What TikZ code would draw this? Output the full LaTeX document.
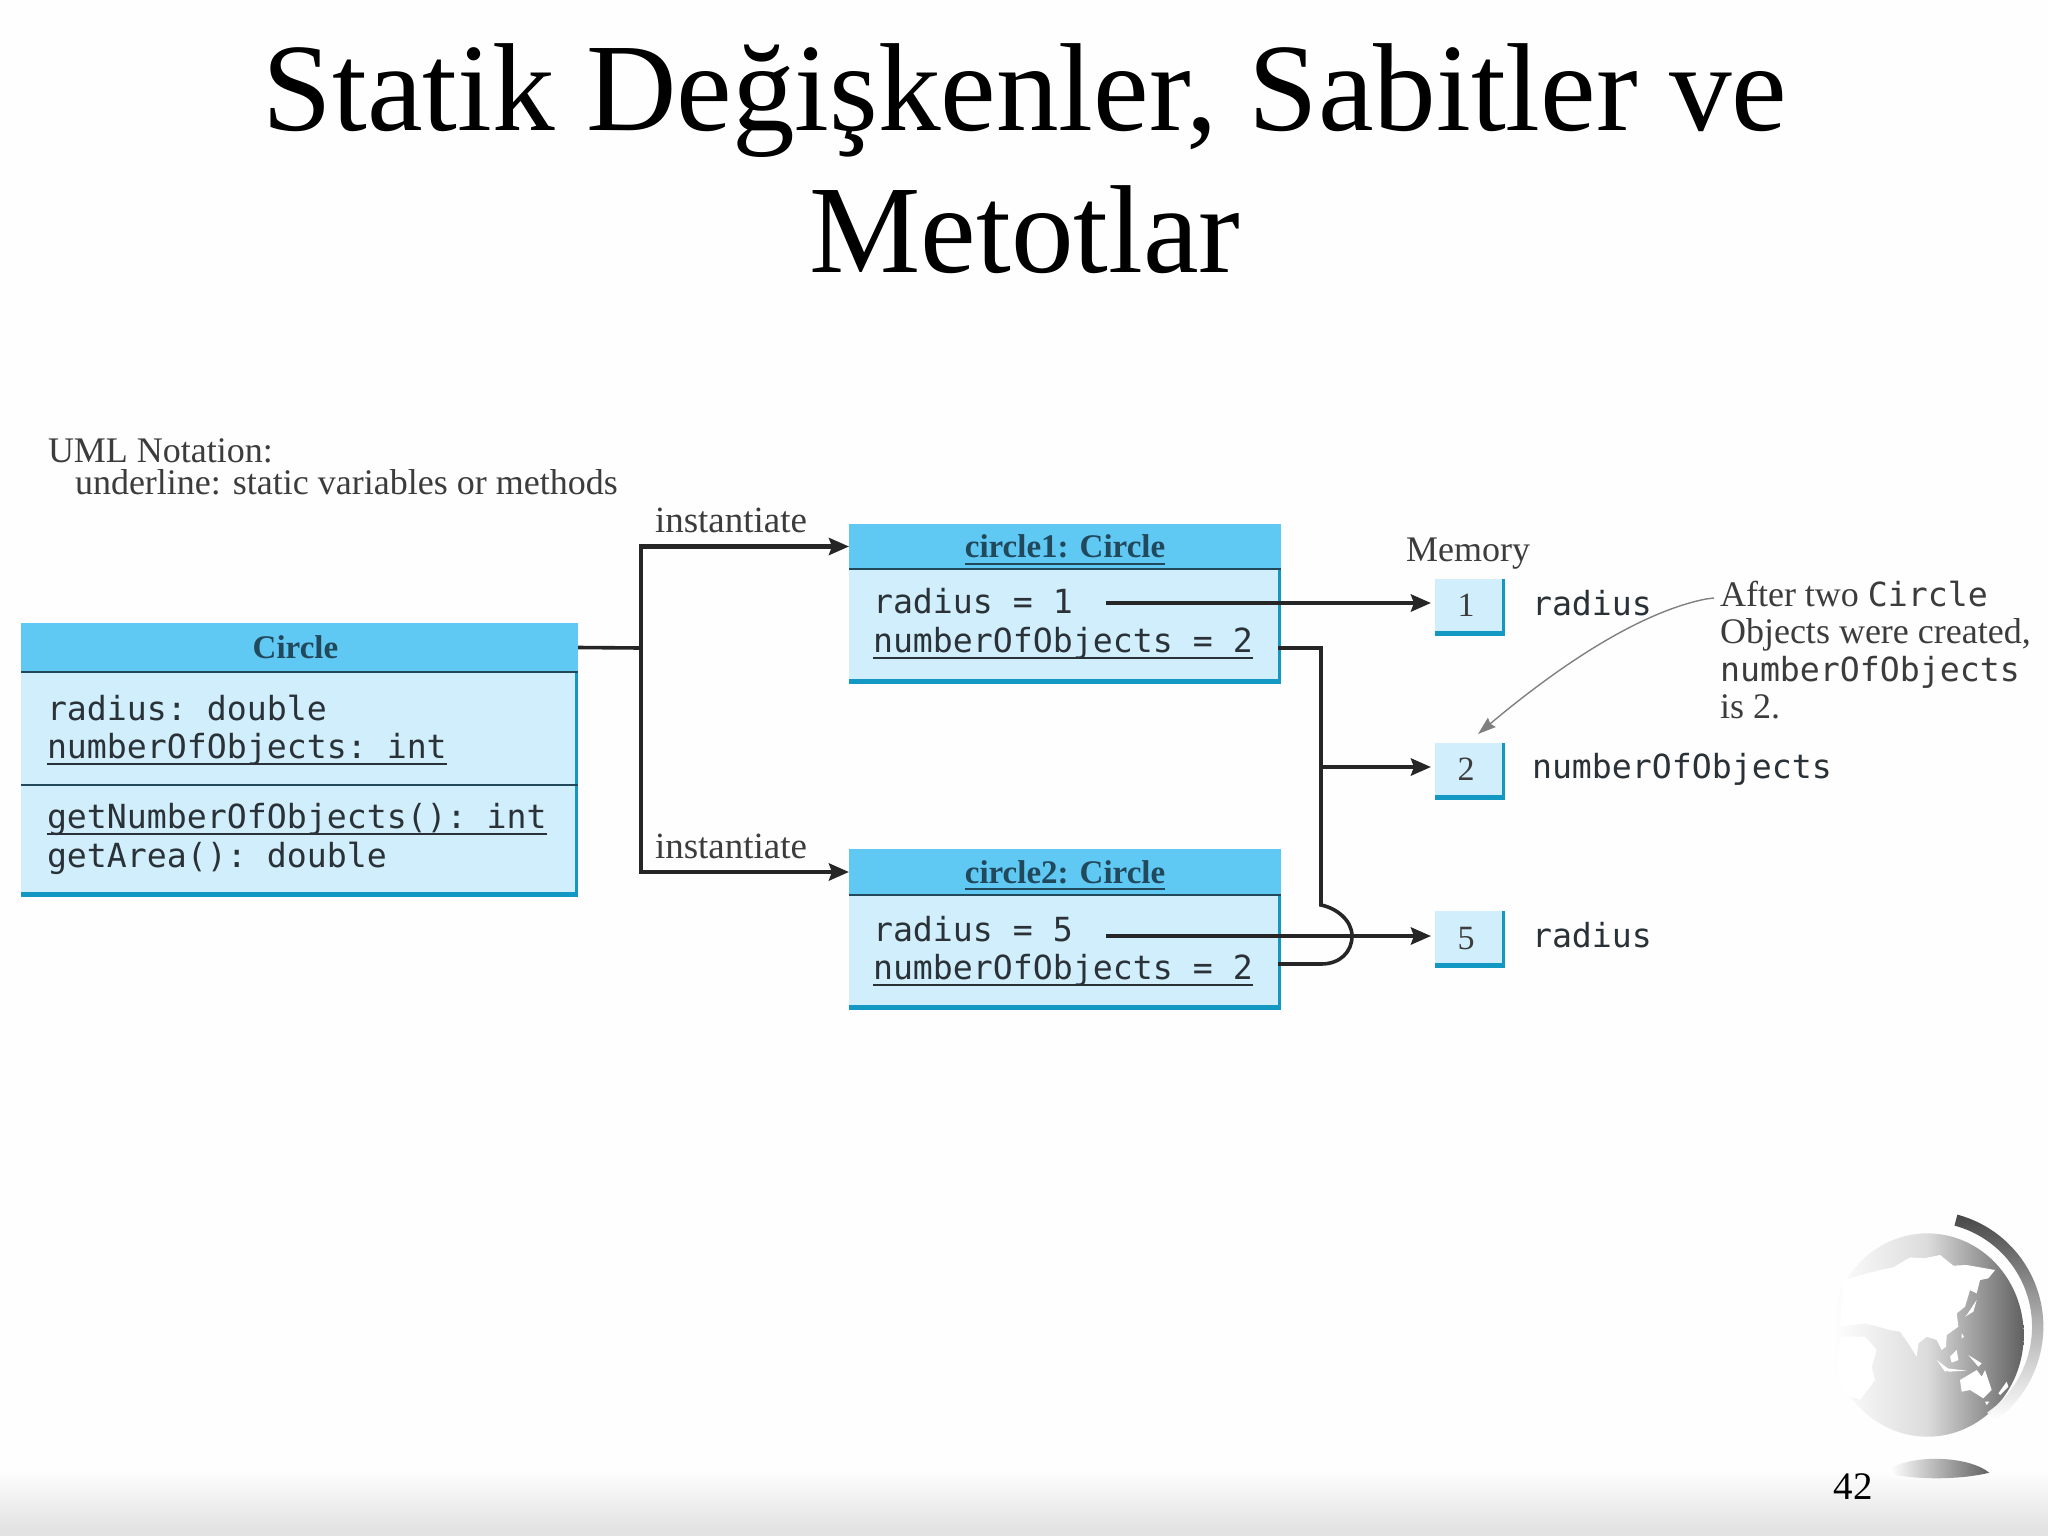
\documentclass[tikz,border=0pt]{standalone}
\usepackage{fontspec}
\setmainfont{Liberation Serif}
\setmonofont{DejaVu Sans Mono}
\usetikzlibrary{arrows.meta,calc}
\definecolor{headc}{HTML}{5FC8F3}
\definecolor{bodyc}{HTML}{D0EEFB}
\definecolor{edgec}{HTML}{1398C4}
\definecolor{linec}{HTML}{22485C}
\definecolor{inkc}{HTML}{2A3238}
\definecolor{greyc}{HTML}{3C3C3C}
\newbox\ulb
\newcommand\ulx[1]{\setbox\ulb\hbox{#1}\smash{\rlap{\vrule width\wd\ulb height -2.5pt depth 3.5pt}}\box\ulb }
\newcommand\mnum[1]{\raisebox{1.5pt}{\makebox[0pt]{\kern-4pt #1}}}
\newcommand\mt{\fontsize{16.6}{20}\selectfont\ttfamily}
\newcommand\st{\fontsize{18}{21}\selectfont}
\tikzset{
  headbox/.style={anchor=north west,fill=headc,inner sep=0pt,outer sep=0pt,text=linec,font=\fontsize{16.5}{20}\selectfont\bfseries},
  bodybox/.style={anchor=north west,fill=edgec,inner sep=0pt,outer sep=0pt,path picture={\fill[bodyc] (path picture bounding box.north west) rectangle ([xshift=-1.3pt,yshift=2.4pt]path picture bounding box.south east);}},
  membox/.style={bodybox,anchor=center,minimum width=35pt,minimum height=28.5pt,font=\fontsize{17}{20}\selectfont,text=greyc},
  mono/.style={anchor=base west,inner sep=0pt,outer sep=0pt,text=inkc,font=\mt},
  serif/.style={anchor=base west,inner sep=0pt,outer sep=0pt,text=greyc,font=\st},
  titlef/.style={anchor=base,inner sep=0pt,text=black,font=\fontsize{62.6}{60}\selectfont},
  conn/.style={line width=2.1pt,draw=black!85,-{Stealth[length=10pt,width=8.5pt,inset=1.5pt]}},
  wire/.style={line width=1.8pt,draw=black!85},
  sep/.style={line width=1.3pt,draw=linec},
  note/.style={draw=black!50,line width=.7pt,-{Stealth[length=9pt,width=6pt,inset=1pt]}},
}
\begin{document}
\begin{tikzpicture}[x=0.5pt,y=-0.5pt]
\useasboundingbox (0,0) rectangle (2048,1536);
\fill[white!99.5!black] (0,0) rectangle (2048,1536);
\shade[top color=white!99.5!black,bottom color=black!11] (0,1472) rectangle (2048,1528);
\fill[black!11] (0,1528) rectangle (2048,1536);

% title
\node[titlef] (t1) at (1025,131) {Statik Değişkenler, Sabitler ve};
\node[titlef] (t2) at (1025,272) {Metotlar};

% notation
\node[serif] (n1) at (48,462) {UML Notation:};
\node[serif] (n2) at (75,494) {underline: static variables or methods};

% Circle class
\node[headbox,minimum width=278.5pt,minimum height=24.5pt] (chead) at (21,623) {\kern-4pt Circle};
\node[bodybox,minimum width=278.5pt,minimum height=112.5pt] (cbody) at (21,672) {};
\draw[sep] (chead.south west) -- (chead.south east);
\coordinate (cdl) at (21,785);
\draw[sep] (cdl) -- (cdl -| cbody.east);
\node[mono] (c1) at (47,720) {radius: double};
\node[mono] (c2) at (47,758) {\ulx{numberOfObjects: int}};
\node[mono] (c3) at (47,828) {\ulx{getNumberOfObjects(): int}};
\node[mono] (c4) at (47,867) {getArea(): double};

% circle1
\node[headbox,minimum width=216pt,minimum height=22.5pt] (ahead) at (849,524) {\ulx{circle1: Circle}};
\node[bodybox,minimum width=216pt,minimum height=57.5pt] (abody) at (849,569) {};
\draw[sep] (ahead.south west) -- (ahead.south east);
\node[mono] (a1) at (873,613) {radius = 1};
\node[mono] (a2) at (873,652) {\ulx{numberOfObjects = 2}};

% circle2
\node[headbox,minimum width=216pt,minimum height=23pt] (bhead) at (849,849) {\ulx{circle2: Circle}};
\node[bodybox,minimum width=216pt,minimum height=57.5pt] (bbody) at (849,895) {};
\draw[sep] (bhead.south west) -- (bhead.south east);
\node[mono] (b1) at (873,941) {radius = 5};
\node[mono] (b2) at (873,979) {\ulx{numberOfObjects = 2}};

% labels
\node[serif,font=\fontsize{18.5}{21}\selectfont] (i1) at (655,532) {instantiate};
\node[serif,font=\fontsize{18.5}{21}\selectfont] (i2) at (655,858) {instantiate};
\node[serif] (mem) at (1406,561) {Memory};

% memory cells
\node[membox] (m1) at (1470,607) {\mnum{1}};
\node[membox] (m2) at (1470,771) {\mnum{2}};
\node[membox] (m5) at (1470,939.5) {\mnum{5}};
\node[mono] (l1) at (1532,615) {radius};
\node[mono] (l2) at (1532,778) {numberOfObjects};
\node[mono] (l5) at (1532,947) {radius};

% note
\node[serif] (t3) at (1720,606) {After two {\mt Circle}};
\node[serif] (t4) at (1720,643) {Objects were created,};
\node[mono,text=greyc] (t5) at (1720,681) {numberOfObjects};
\node[serif] (t6) at (1720,718) {is 2.};

% connectors
\coordinate (jn) at (641,648);
\draw[wire] (chead.east) -- (jn);
\draw[conn] (jn) |- (ahead.west);
\draw[conn] (jn) |- (bhead.west);

\coordinate (r1s) at (1106,603);
\coordinate (r5s) at (1106,936);
\draw[conn,shorten >=2pt] (r1s) -- (r1s -| m1.west);
\draw[conn,shorten >=2pt] (r5s) -- (r5s -| m5.west);

\coordinate (w1) at (1278,648);
\coordinate (w2) at (1321,648);
\coordinate (w3) at (1321,767);
\coordinate (w4) at (1321,905);
\coordinate (w5) at (1321,964);
\coordinate (w6) at (1278,964);
\draw[wire] (w1) -- (w2) -- (w4) .. controls (1336,908) and (1352,920) .. (1352,936) .. controls (1352,952) and (1340,964) .. (w5) -- (w6);
\draw[conn,shorten >=2pt] (w3) -- (w3 -| m2.west);

\coordinate (nt) at (1714,598);
\coordinate (ntip) at (1478,734);
\draw[note] (nt) -- (1706,599) .. controls (1640,612) and (1560,665) .. (ntip);

% globe
\begin{scope}[shift={(1780,1180)},x=0.16667pt,y=-0.16667pt]
\shade[left color=white,right color=black!62,middle color=black!14] (442,465) circle (289 and 305);
\fill[white] (190,300) -- (300,270) -- (340,262) -- (390,232) -- (432,235) -- (480,225) -- (520,257) -- (560,255) -- (645,270) -- (625,295) -- (600,300) -- (590,340) -- (570,330) -- (555,380) -- (530,400) -- (535,440) -- (500,465) -- (498,500) -- (485,510) -- (470,480) -- (440,470) -- (415,490) -- (410,530) -- (385,490) -- (360,455) -- (330,450) -- (295,440) -- (255,430) -- (180,440) -- cycle;
\fill[white] (255,470) -- (290,510) -- (275,560) -- (285,600) -- (240,660) -- (190,640) -- (170,560) -- (180,470) -- cycle;
\fill[white] (560,405) -- (590,360) -- (580,395) -- (555,410) -- cycle;
\fill[white] (470,540) -- (510,570) -- (495,575) -- cycle;
\fill[white] (500,565) -- (560,572) -- (505,575) -- cycle;
\fill[white] (510,530) -- (530,510) -- (535,540) -- (515,548) -- cycle;
\fill[white] (565,525) -- (605,550) -- (595,560) -- cycle;
\fill[white] (540,600) -- (590,570) -- (605,590) -- (615,570) -- (635,630) -- (610,655) -- (570,630) -- (545,635) -- cycle;
\fill[white] (615,665) -- (628,665) -- (620,675) -- cycle;
\fill[white] (655,640) -- (680,605) -- (685,620) -- (660,645) -- cycle;
\fill[white] (545,460) -- (552,470) -- (545,475) -- cycle;
\shade[top color=black!72,bottom color=white,middle color=black!32]
  ($(442,440)+(-75:348)$) arc[start angle=-75,end angle=55,radius=348]
  -- ($(442,440)+(55:314)$) arc[start angle=55,end angle=-75,radius=314] -- cycle;
\shade[left color=white,right color=black!62]
  (330,865) .. controls (400,825) and (560,825) .. (628,878) .. controls (540,900) and (400,900) .. (330,880) -- cycle;
\end{scope}
\node[anchor=base,inner sep=0pt,font=\fontsize{19.5}{20}\selectfont] (pg) at (1853,1499) {42};
\end{tikzpicture}
\end{document}
